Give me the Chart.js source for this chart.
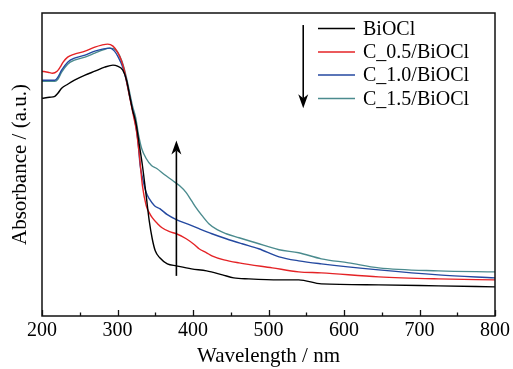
<!DOCTYPE html>
<html><head><meta charset="utf-8">
<script src="https://cdn.jsdelivr.net/npm/chart.js@4/dist/chart.umd.min.js"></script>
<style>html,body{margin:0;padding:0;background:#fff}</style>
</head><body>
<canvas id="c" width="513" height="369"></canvas>
<script>
const xTickLabels = [200, 300, 400, 500, 600, 700, 800];
const seriesNames = ['BiOCl', 'C_0.5/BiOCl', 'C_1.0/BiOCl', 'C_1.5/BiOCl'];
const seriesColors = ['#000000', '#e42326', '#2449a0', '#4b8b8e'];

const bioclX = [200,210,217,221,226,234,243,257,270,283,294,300,307,312,316,320,323,325,329,333,338,342,346,350,356,366,378,398,418,439,454,474,514,540,570,646,725,800];
const bioclY = [218,219,220,223,228,232,236,241,245,249,251,250,246,236,221,206,198,191,171,151,121,96,78,66,59,53,51,48,46,42,39,38,37,37,33,32,31,30];

const c05X = [200,208,214,220,224,228,234,243,257,270,279,287,294,300,305,309,313,317,321,325,329,333,338,342,346,353,359,369,378,391,402,408,418,425,441,461,505,540,570,646,725,800];
const c05Y = [245,244,243,245,249,254,259,262,265,269,271,272,270,264,256,246,231,216,201,186,161,131,111,104,99,93,89,85,83,78,72,68,64,61,57,54,49,45,44,40,38,37];

const c10X = [200,210,217,221,226,234,243,257,270,280,290,296,301,307,311,315,319,323,327,330,333,338,342,349,356,366,378,395,408,425,444,465,487,514,540,570,646,725,800];
const c10Y = [236,236,236,239,246,254,258,261,265,267,268,265,259,249,238,224,210,196,176,151,139,124,118,111,108,102,97,92,88,83,78,73,68,60,56,53,47,42,39];

const c15X = [200,210,217,221,226,234,243,257,270,280,290,298,303,308,312,316,320,324,328,332,338,345,352,362,373,382,391,398,404,412,421,432,444,461,483,514,540,570,606,646,725,800];
const c15Y = [235,235,235,237,244,252,256,259,263,266,268,266,260,250,238,224,210,199,181,168,158,151,148,142,136,131,124,116,109,101,93,87,83,79,74,67,64,58,54,49,46,45];

const seriesX = [bioclX, c05X, c10X, c15X];
const seriesY = [bioclY, c05Y, c10Y, c15Y];

const datasets = seriesNames.map((name, i) => ({
  label: name,
  data: seriesX[i].map((x, j) => ({x: x, y: seriesY[i][j]})),
  borderColor: seriesColors[i],
  borderWidth: 1.4,
  pointRadius: 0,
  cubicInterpolationMode: 'monotone',
  fill: false
}));

const SERIF = '"Liberation Serif", "Times New Roman", serif';

function arrow(ctx, x, y1, y2) {
  const dir = y2 > y1 ? 1 : -1;
  ctx.beginPath();
  ctx.moveTo(x, y1);
  ctx.lineTo(x, y2 - dir * 10);
  ctx.stroke();
  ctx.beginPath();
  ctx.moveTo(x, y2);
  ctx.lineTo(x - 5, y2 - dir * 14);
  ctx.lineTo(x, y2 - dir * 10);
  ctx.lineTo(x + 5, y2 - dir * 14);
  ctx.closePath();
  ctx.fill();
}

const decor = {
  id: 'decor',
  afterDraw(chart) {
    const {ctx, chartArea: a, scales} = chart;
    const xs = scales.x, ys = scales.y;
    ctx.save();
    ctx.strokeStyle = '#111';
    ctx.lineWidth = 1.5;
    ctx.strokeRect(a.left, a.top, a.right - a.left, a.bottom - a.top);
    ctx.lineWidth = 1.3;
    for (let v = 200; v <= 800; v += 50) {
      const px = Math.round(xs.getPixelForValue(v)) + 0.5;
      const len = (v % 100 === 0) ? 6 : 3.5;
      ctx.beginPath();
      ctx.moveTo(px, a.bottom);
      ctx.lineTo(px, a.bottom - len);
      ctx.stroke();
    }
    ctx.fillStyle = '#000';
    ctx.font = '21px ' + SERIF;
    ctx.textAlign = 'center';
    ctx.textBaseline = 'middle';
    ctx.translate(20, (a.top + a.bottom) / 2);
    ctx.rotate(-Math.PI / 2);
    ctx.fillText('Absorbance / (a.u.)', 0, 0);
    ctx.restore();

    ctx.save();
    ctx.font = '20px ' + SERIF;
    ctx.textAlign = 'left';
    ctx.textBaseline = 'middle';
    const rows = [28.5, 52, 75, 98.5];
    seriesNames.forEach((n, i) => {
      ctx.strokeStyle = seriesColors[i];
      ctx.lineWidth = 1.4;
      ctx.beginPath();
      ctx.moveTo(318, rows[i]);
      ctx.lineTo(355, rows[i]);
      ctx.stroke();
      ctx.fillStyle = '#000';
      ctx.fillText(n, 363, rows[i] + 1);
    });
    ctx.strokeStyle = '#000';
    ctx.fillStyle = '#000';
    ctx.lineWidth = 1.6;
    arrow(ctx, xs.getPixelForValue(546), ys.getPixelForValue(291), ys.getPixelForValue(208));
    arrow(ctx, xs.getPixelForValue(378), ys.getPixelForValue(41), ys.getPixelForValue(176));
    ctx.restore();
  }
};

new Chart(document.getElementById('c'), {
  type: 'line',
  data: {datasets},
  options: {
    responsive: false,
    animation: false,
    layout: {padding: {left: 42, right: 16, top: 13, bottom: 2}},
    plugins: {legend: {display: false}, tooltip: {enabled: false}},
    scales: {
      x: {
        type: 'linear', min: 200, max: 800,
        afterBuildTicks: (s) => { s.ticks = xTickLabels.map(v => ({value: v})); },
        grid: {display: false, drawTicks: false, tickLength: 0},
        border: {display: false},
        ticks: {color: '#000', font: {family: SERIF, size: 20}, padding: 3, maxRotation: 0, autoSkip: false},
        title: {display: true, text: 'Wavelength / nm', color: '#000', font: {family: SERIF, size: 21, lineHeight: 1.0}, padding: {top: 0, bottom: 0}}
      },
      y: {
        type: 'linear', min: 1, max: 303, display: false
      }
    }
  },
  plugins: [decor]
});
</script>
</body></html>
